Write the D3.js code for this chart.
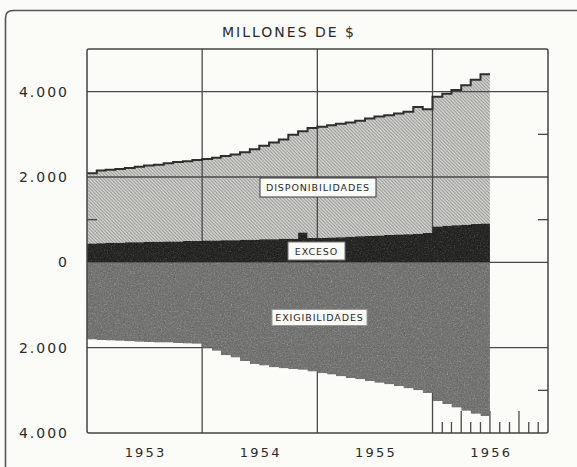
<!DOCTYPE html>
<html>
<head>
<meta charset="utf-8">
<script src="https://cdn.jsdelivr.net/npm/d3@7"></script>
<style>
  html, body { margin: 0; padding: 0; background: #fbfbf8; }
  svg { display: block; }
  text { font-family: "DejaVu Sans", sans-serif; fill: #2a2a2a; }
</style>
</head>
<body>
<svg id="chart" width="577" height="467"></svg>
<script>
// ---- DATA (millones de $) ----
const title = "MILLONES DE $";
const months = [
  "1953-01","1953-02","1953-03","1953-04","1953-05","1953-06","1953-07","1953-08","1953-09","1953-10","1953-11","1953-12",
  "1954-01","1954-02","1954-03","1954-04","1954-05","1954-06","1954-07","1954-08","1954-09","1954-10","1954-11","1954-12",
  "1955-01","1955-02","1955-03","1955-04","1955-05","1955-06","1955-07","1955-08","1955-09","1955-10","1955-11","1955-12",
  "1956-01","1956-02","1956-03","1956-04","1956-05","1956-06"
];
const endMonth = "1956-07";
const disponibilidades = [
  2090, 2150, 2170, 2190, 2210, 2240, 2270, 2290, 2320, 2350, 2370, 2400,
  2420, 2450, 2490, 2530, 2580, 2650, 2730, 2810, 2880, 2990, 3070, 3150,
  3180, 3210, 3250, 3280, 3320, 3370, 3420, 3450, 3490, 3530, 3640, 3590,
  3880, 3950, 4040, 4150, 4280, 4410
];
const exceso = [
  440, 450, 460, 460, 470, 470, 480, 480, 490, 490, 500, 500,
  510, 510, 520, 520, 530, 530, 540, 540, 550, 550, 700, 570,
  570, 580, 590, 600, 610, 620, 630, 640, 650, 660, 670, 690,
  840, 860, 870, 880, 900, 910
];
const exigibilidades = [
  1810, 1820, 1830, 1840, 1850, 1860, 1870, 1880, 1880, 1890, 1900, 1910,
  2000, 2070, 2180, 2230, 2310, 2380, 2420, 2460, 2480, 2500, 2520, 2560,
  2600, 2630, 2670, 2710, 2740, 2780, 2820, 2860, 2900, 2950, 3000, 3060,
  3250, 3320, 3400, 3480, 3550, 3600
];
const yTicks = [4000, 2000, 0, -2000, -4000];
const yTickLabels = ["4.000", "2.000", "0", "2.000", "4.000"];
const yMinorTicksLeft = [1000];
const yMinorTicksRight = [3000, 1000, -3000];
const years = ["1953", "1954", "1955", "1956"];
const yearBounds = ["1953-01", "1954-01", "1955-01", "1956-01", "1957-01"];
const monthTicks1956 = ["1956-02","1956-03","1956-04","1956-05","1956-06","1956-07","1956-08","1956-09","1956-10","1956-11","1956-12"];
const quarterTicks1956 = ["1956-04","1956-07","1956-10"];
const labels = { disp: "DISPONIBILIDADES", exc: "EXCESO", exig: "EXIGIBILIDADES" };

// ---- CHART ----
const parse = d3.timeParse("%Y-%m");
const svg = d3.select("#chart");
const L = 87, R = 548, T = 49, B = 433;

const x = d3.scaleTime()
  .domain([parse(yearBounds[0]), parse(yearBounds[yearBounds.length - 1])])
  .range([L, R]);
const y = d3.scaleLinear().domain([-4000, 5000]).range([B, T]);

const rows = months.map((m, i) => ({
  date: parse(m), disp: disponibilidades[i], exc: exceso[i], exig: exigibilidades[i]
}));
const last = rows[rows.length - 1];
const series = rows.concat([{ date: parse(endMonth), disp: last.disp, exc: last.exc, exig: last.exig }]);

const defs = svg.append("defs");
// hatch pattern
const hatch = defs.append("pattern")
  .attr("id", "hatch").attr("patternUnits", "userSpaceOnUse")
  .attr("width", 3.4).attr("height", 3.4);
hatch.append("rect").attr("width", 3.4).attr("height", 3.4).attr("fill", "#d8d8d4");
hatch.append("path")
  .attr("d", "M-1,-1 L4.4,4.4 M2.4,-1 L4.4,1 M-1,2.4 L1,4.4")
  .attr("stroke", "#8e8e8a").attr("stroke-width", 1);

// speckle filter
const f = defs.append("filter").attr("id", "speckle")
  .attr("color-interpolation-filters", "sRGB")
  .attr("x", 0).attr("y", 0).attr("width", 1).attr("height", 1);
f.append("feTurbulence").attr("type", "fractalNoise")
  .attr("baseFrequency", 0.7).attr("numOctaves", 2).attr("seed", 4).attr("result", "noise");
f.append("feColorMatrix").attr("in", "noise").attr("type", "saturate").attr("values", 0).attr("result", "gnoise");
f.append("feComposite").attr("in", "SourceGraphic").attr("in2", "gnoise")
  .attr("operator", "arithmetic").attr("k1", 0).attr("k2", 1).attr("k3", 0.45).attr("k4", -0.2)
  .attr("result", "mix");
f.append("feComposite").attr("in", "mix").attr("in2", "SourceGraphic").attr("operator", "in");

// outer frame (left and top edges, rounded corner)
svg.append("path")
  .attr("d", "M5.5,467 L5.5,18 Q5.5,10.5 13,10.5 L577,10.5")
  .attr("fill", "none").attr("stroke", "#555").attr("stroke-width", 1.6);

// title
svg.append("text")
  .attr("x", 289).attr("y", 37)
  .attr("text-anchor", "middle")
  .attr("font-size", 14).attr("letter-spacing", 2)
  .text(title);

// hatched disponibilidades area (from 0 to total)
svg.append("path")
  .datum(series)
  .attr("fill", "url(#hatch)")
  .attr("d", d3.area().curve(d3.curveStepAfter)
    .x(d => x(d.date)).y0(y(0)).y1(d => y(d.disp)));

// gridlines
const grid = svg.append("g").attr("stroke", "#4a4a4a").attr("stroke-width", 1.3);
grid.selectAll("line.h").data([4000, 2000, 0, -2000]).join("line")
  .attr("x1", L).attr("x2", R).attr("y1", d => y(d)).attr("y2", d => y(d));
grid.selectAll("line.v").data(yearBounds.slice(1, -1)).join("line")
  .attr("x1", d => x(parse(d))).attr("x2", d => x(parse(d))).attr("y1", T).attr("y2", B);

// minor ticks
const tk = svg.append("g").attr("stroke", "#4a4a4a").attr("stroke-width", 1.3);
tk.selectAll("line.l").data(yMinorTicksLeft).join("line")
  .attr("x1", L).attr("x2", L + 10).attr("y1", d => y(d)).attr("y2", d => y(d));
tk.selectAll("line.r").data(yMinorTicksRight).join("line")
  .attr("x1", R - 10).attr("x2", R).attr("y1", d => y(d)).attr("y2", d => y(d));
tk.selectAll("line.m").data(monthTicks1956).join("line")
  .attr("x1", d => x(parse(d))).attr("x2", d => x(parse(d)))
  .attr("y1", B).attr("y2", d => B - (quarterTicks1956.includes(d) ? 22 : 11));

// exceso (dark)
svg.append("path")
  .datum(series)
  .attr("fill", "#3c3c3a")
  .attr("filter", "url(#speckle)")
  .attr("d", d3.area().curve(d3.curveStepAfter)
    .x(d => x(d.date)).y0(y(0)).y1(d => y(d.exc)));

// exigibilidades (negative, medium gray)
svg.append("path")
  .datum(series)
  .attr("fill", "#888886")
  .attr("filter", "url(#speckle)")
  .attr("d", d3.area().curve(d3.curveStepAfter)
    .x(d => x(d.date)).y0(y(0)).y1(d => y(-d.exig)));

// top line of disponibilidades
svg.append("path")
  .datum(series)
  .attr("fill", "none").attr("stroke", "#2e2e2e").attr("stroke-width", 2)
  .attr("d", d3.line().curve(d3.curveStepAfter).x(d => x(d.date)).y(d => y(d.disp)));

// plot frame
svg.append("rect")
  .attr("x", L).attr("y", T).attr("width", R - L).attr("height", B - T)
  .attr("rx", 2)
  .attr("fill", "none").attr("stroke", "#444").attr("stroke-width", 1.5);

// y tick labels
svg.append("g").selectAll("text").data(yTicks).join("text")
  .attr("x", 69).attr("y", d => y(d) + 5)
  .attr("text-anchor", "end")
  .attr("font-size", 14).attr("letter-spacing", 2)
  .text((d, i) => yTickLabels[i]);

// x year labels
svg.append("g").selectAll("text").data(years).join("text")
  .attr("x", (d, i) => (x(parse(yearBounds[i])) + x(parse(yearBounds[i + 1]))) / 2 + 1)
  .attr("y", 457)
  .attr("text-anchor", "middle")
  .attr("font-size", 13).attr("letter-spacing", 2.2)
  .text(d => d);

// boxed labels
function boxLabel(cx, cy, w, h, txt, stroke) {
  const g = svg.append("g");
  g.append("rect").attr("x", cx - w / 2).attr("y", cy - h / 2).attr("width", w).attr("height", h)
    .attr("fill", "#fafaf7").attr("stroke", stroke).attr("stroke-width", 1);
  g.append("text").attr("x", cx).attr("y", cy + 3.5).attr("text-anchor", "middle")
    .attr("font-size", 9.5).attr("letter-spacing", 0.9).text(txt);
}
boxLabel(318, 187.5, 116, 19, labels.disp, "#3a3a3a");
boxLabel(316.5, 251, 57, 18, labels.exc, "#777");
boxLabel(319.5, 317.5, 95, 16, labels.exig, "#999");
</script>
</body>
</html>
